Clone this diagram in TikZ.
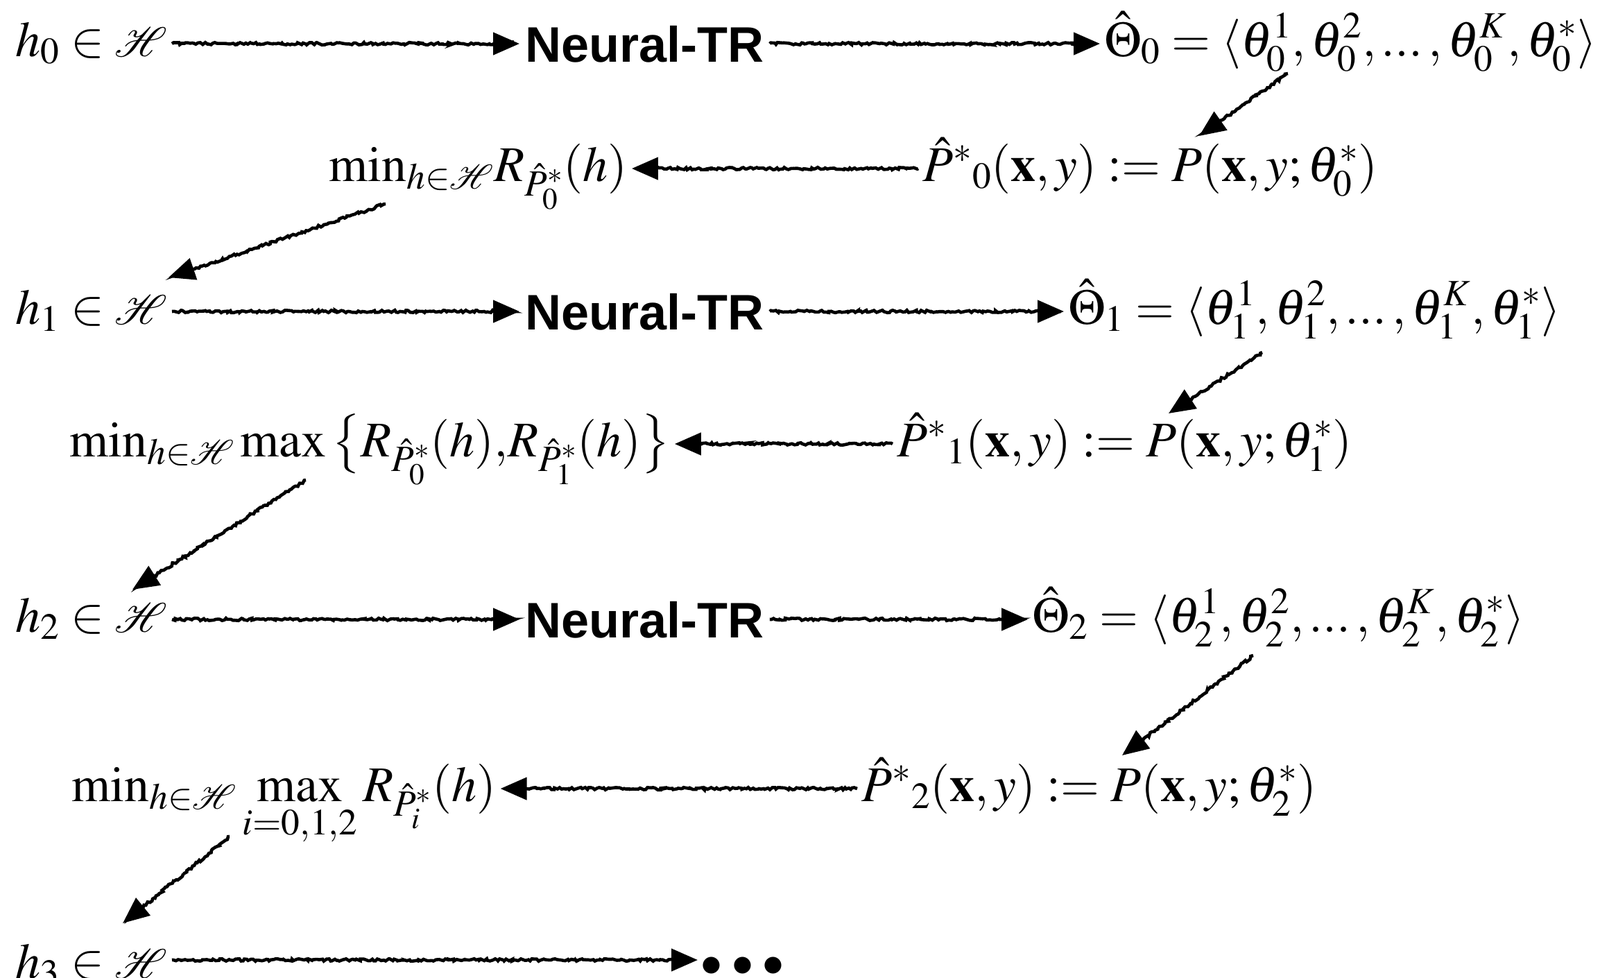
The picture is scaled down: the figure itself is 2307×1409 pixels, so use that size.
\documentclass[tikz,border=0pt]{standalone}
\usepackage{amsmath}
\usepackage{mathptmx}
\usepackage{mathrsfs}
\usepackage{fontspec}
\setmainfont{Liberation Serif}
\newfontfamily\ntfont{Liberation Sans}
\usetikzlibrary{arrows.meta,decorations.pathmorphing}
\newcommand{\HsAux}[2]{\ifx#1\displaystyle\scalebox{1.2}{$#1\mathscr{H}$}\else\ifx#1\textstyle\scalebox{1.2}{$#1\mathscr{H}$}\else\mathscr{H}\fi\fi}
\newcommand{\Hs}{\mathpalette\HsAux\relax}
\newcommand{\tdots}{\mathinner{\ldotp\mkern-2mu\ldotp\mkern-2mu\ldotp}}
\begin{document}
\begin{tikzpicture}[x=0.5pt,y=-0.5pt,
  txt/.style={font=\fontsize{36}{43}\selectfont, inner ysep=0pt, inner xsep=3pt},
  nt/.style={font=\ntfont\bfseries\fontsize{36}{43}\selectfont, inner ysep=0pt, inner xsep=4pt},
  arr/.style={draw, line width=2.3pt, -{Triangle[length=19pt,width=16pt]},
    decoration={random steps, segment length=1.5pt, amplitude=0.9pt, post length=5pt},
    decorate}]
\useasboundingbox (0,0) rectangle (2307,1409);
% row 1
\node[txt, anchor=base west] (h0) at (16,81) {$h_0 \in \Hs$};
\node[nt, anchor=base west] (n0) at (749,89) {Neural-TR};
\node[txt, anchor=base west] (t0) at (1586,81) {$\hat{\Theta}_0 = \langle \theta_0^1, \theta_0^2, \tdots, \theta_0^K, \theta_0^*\rangle$};
% row 2
\node[txt, anchor=base west] (m0) at (468,261) {$\min_{h\in\Hs}\! R_{\hat{P}_0^*}(h)$};
\node[txt, anchor=base west] (p0) at (1324,261) {$\hat{P}^{*}{}_0(\mathbf{x},y) := P(\mathbf{x},y;\theta_0^*)$};
% row 3
\node[txt, anchor=base west] (h1) at (16,467) {$h_1 \in \Hs$};
\node[nt, anchor=base west] (n1) at (749,475) {Neural-TR};
\node[txt, anchor=base west] (t1) at (1534,467) {$\hat{\Theta}_1 = \langle \theta_1^1, \theta_1^2, \tdots, \theta_1^K, \theta_1^*\rangle$};
% row 4
\node[txt, anchor=base west] (m1) at (94,658) {$\min_{h\in\Hs} \max\,\bigl\{R_{\hat{P}_0^*}(h),\! R_{\hat{P}_1^*}(h)\bigr\}$};
\node[txt, anchor=base west] (p1) at (1287,658) {$\hat{P}^{*}{}_1(\mathbf{x},y) := P(\mathbf{x},y;\theta_1^*)$};
% row 5
\node[txt, anchor=base west] (h2) at (16,911) {$h_2 \in \Hs$};
\node[nt, anchor=base west] (n2) at (749,919) {Neural-TR};
\node[txt, anchor=base west] (t2) at (1482,911) {$\hat{\Theta}_2 = \langle \theta_2^1, \theta_2^2, \tdots, \theta_2^K, \theta_2^*\rangle$};
% row 6
\node[txt, anchor=base west] (m2) at (97,1155) {$\min_{h\in\Hs} \max\limits_{i=0,1,2} R_{\hat{P}_i^*}(h)$};
\node[txt, anchor=base west] (p2) at (1236,1155) {$\hat{P}^{*}{}_2(\mathbf{x},y) := P(\mathbf{x},y;\theta_2^*)$};
% row 7
\node[txt, anchor=base west] (h3) at (16,1410) {$h_3 \in \Hs$};
\node[txt, anchor=base west, font=\fontsize{31}{34}\selectfont, inner xsep=2pt] (dd) at (1006,1407) {${\bullet}\mkern4mu{\bullet}\mkern4mu{\bullet}$};
% horizontal arrows
\draw[arr] ([yshift=9pt]h0.base east) -- ([yshift=9pt]h0.base east -| n0.west);
\draw[arr] ([yshift=9pt]h0.base east -| n0.east) -- ([yshift=9pt]h0.base east -| t0.west);
\draw[arr] ([yshift=9pt]p0.base west) -- ([yshift=9pt]p0.base west -| m0.east);
\draw[arr] ([yshift=9pt]h1.base east) -- ([yshift=9pt]h1.base east -| n1.west);
\draw[arr] ([yshift=9pt]h1.base east -| n1.east) -- ([yshift=9pt]h1.base east -| t1.west);
\draw[arr] ([yshift=9pt]p1.base west) -- ([yshift=9pt]p1.base west -| m1.east);
\draw[arr] ([yshift=9pt]h2.base east) -- ([yshift=9pt]h2.base east -| n2.west);
\draw[arr] ([yshift=9pt]h2.base east -| n2.east) -- ([yshift=9pt]h2.base east -| t2.west);
\draw[arr] ([yshift=9pt]p2.base west) -- ([yshift=9pt]p2.base west -| m2.east);
\draw[arr] ([yshift=13pt]h3.base east) -- ([yshift=13pt]h3.base east -| dd.west);
% diagonal arrows
\coordinate (d1s) at (1857,106); \coordinate (d1e) at (1729,196);
\coordinate (d2s) at (556,294);  \coordinate (d2e) at (243,400);
\coordinate (d3s) at (1820,508); \coordinate (d3e) at (1685,596);
\coordinate (d4s) at (441,692);  \coordinate (d4e) at (191,850);
\coordinate (d5s) at (1807,945); \coordinate (d5e) at (1618,1089);
\coordinate (d6s) at (331,1206); \coordinate (d6e) at (177,1331);
\draw[arr] (d1s) -- (d1e);
\draw[arr] (d2s) -- (d2e);
\draw[arr] (d3s) -- (d3e);
\draw[arr] (d4s) -- (d4e);
\draw[arr] (d5s) -- (d5e);
\draw[arr] (d6s) -- (d6e);
\end{tikzpicture}
\end{document}
